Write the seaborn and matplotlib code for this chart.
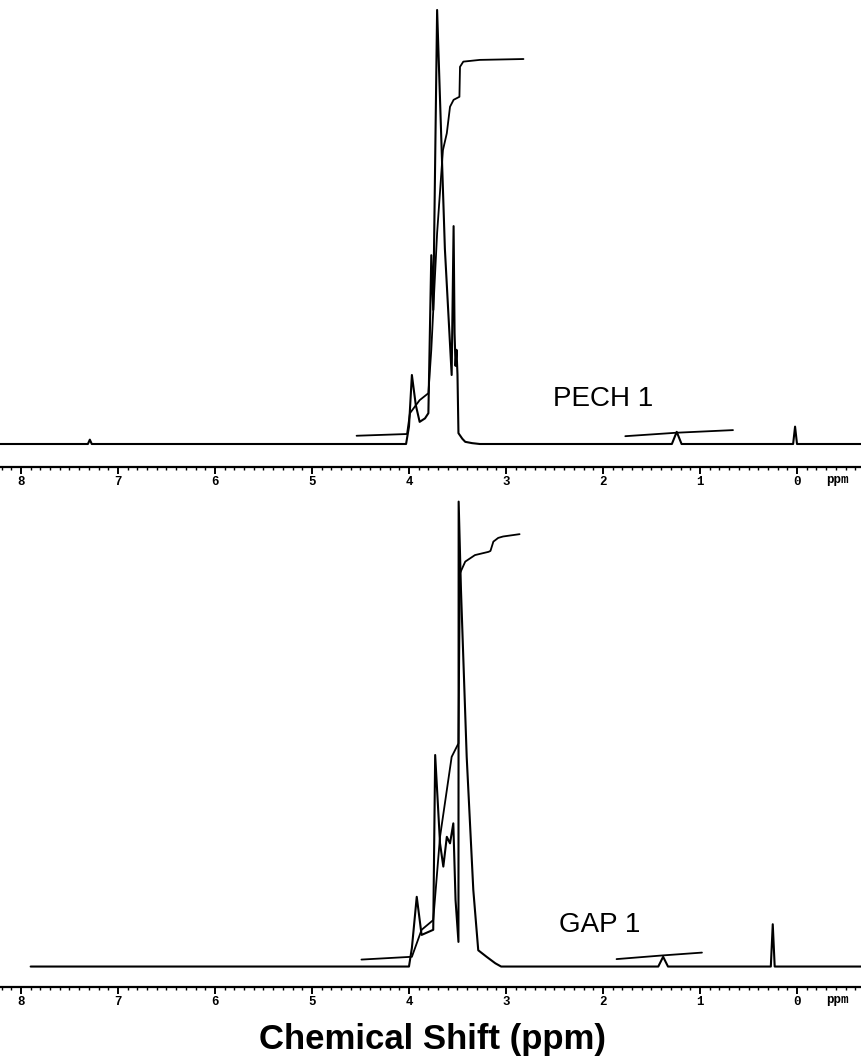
import numpy as np
import pandas as pd
import seaborn as sns
import matplotlib.pyplot as plt
from matplotlib.ticker import MultipleLocator, FixedLocator

# ---- data (ppm, relative intensity) ----
pech_ppm = [8.22, 7.31, 7.29, 7.27, 4.03, 4.00, 3.97, 3.93, 3.89, 3.835, 3.80, 3.77,
            3.75, 3.71, 3.63, 3.56, 3.54, 3.53, 3.52, 3.51, 3.50, 3.49, 3.45, 3.42,
            3.35, 3.27, 1.29, 1.24, 1.19, 0.04, 0.02, 0.00, -0.67]
pech_int = [0.0, 0.0, 1.0, 0.0, 0.0, 4.0, 15.9, 9.0, 5.1, 5.9, 7.1, 43.5,
            30.9, 100.0, 45.0, 15.9, 50.2, 25.5, 18.0, 21.7, 16.0, 2.5, 1.2, 0.5,
            0.2, 0.0, 0.0, 2.8, 0.0, 0.0, 4.0, 0.0, 0.0]

pech_int_ppm = [4.54, 4.02, 3.99, 3.89, 3.80, 3.77, 3.71, 3.65, 3.61, 3.577, 3.54,
                3.48, 3.474, 3.44, 3.27, 2.82]
pech_int_val = [1.9, 2.3, 7.1, 10.1, 11.7, 21.7, 48.6, 67.7, 71.6, 77.7, 79.3,
                80.0, 86.9, 88.1, 88.5, 88.7]
pech_small_int_ppm = [1.77, 1.24, 0.66]
pech_small_int_val = [1.8, 2.6, 3.2]

gap_ppm = [7.90, 4.00, 3.97, 3.92, 3.87, 3.75, 3.73, 3.68, 3.646, 3.61, 3.577, 3.543,
           3.52, 3.49, 3.488, 3.464, 3.405, 3.337, 3.286, 3.20, 3.11, 3.05, 1.43, 1.38,
           1.33, 0.27, 0.25, 0.23, -0.67]
gap_int = [0.0, 0.0, 4.0, 15.0, 6.8, 7.9, 45.5, 26.5, 21.5, 27.9, 26.5, 30.8,
           14.3, 5.3, 100.0, 81.0, 45.1, 16.5, 3.5, 2.1, 0.7, 0.0, 0.0, 2.1,
           0.0, 0.0, 9.1, 0.0, 0.0]

gap_int_ppm = [4.49, 3.97, 3.87, 3.75, 3.68, 3.56, 3.49, 3.474, 3.42, 3.32, 3.18,
               3.16, 3.13, 3.08, 3.03, 2.86]
gap_int_val = [1.5, 2.1, 7.9, 10.0, 27.9, 45.1, 48.0, 84.6, 87.1, 88.5, 89.2,
               89.4, 91.4, 92.2, 92.5, 93.0]
gap_small_int_ppm = [1.86, 1.38, 0.98]
gap_small_int_val = [1.6, 2.4, 3.0]

sample_labels = ["PECH 1", "GAP 1"]
major_ticks = [8, 7, 6, 5, 4, 3, 2, 1, 0]

sns.set_style("white")
plt.rcParams['font.family'] = ['Liberation Sans', 'DejaVu Sans']
plt.rcParams['text.color'] = 'black'

W, H = 862, 1059
fig = plt.figure(figsize=(W / 100, H / 100), dpi=100)

# axes placement (pixel rows of the ruler and top edge)
ax_top = fig.add_axes([0, 1 - 467 / H, 1, 467 / H])
ax_bot = fig.add_axes([0, 1 - 987 / H, 1, (987 - 490) / H])

panels = [
    (ax_top, pech_ppm, pech_int, [(pech_int_ppm, pech_int_val), (pech_small_int_ppm, pech_small_int_val)],
     (-5.3, 102.3), sample_labels[0], (2.0, 10.4), -8.4),
    (ax_bot, gap_ppm, gap_int, [(gap_int_ppm, gap_int_val), (gap_small_int_ppm, gap_small_int_val)],
     (-4.4, 102.5), sample_labels[1], (2.03, 8.9), -7.3),
]

for ax, xs, ys, integrals, ylim, label, label_pos, ppm_y in panels:
    df = pd.DataFrame({"ppm": xs, "intensity": ys})
    sns.lineplot(data=df, x="ppm", y="intensity", ax=ax, color="black",
                 linewidth=1.5, sort=False, estimator=None)
    for ix, iy in integrals:
        di = pd.DataFrame({"ppm": ix, "integral": iy})
        sns.lineplot(data=di, x="ppm", y="integral", ax=ax, color="black",
                     linewidth=1.3, sort=False, estimator=None)

    ax.set_xlim(8.216, -0.670)
    ax.set_ylim(*ylim)
    ax.set_facecolor("none")
    for side in ["top", "left", "right"]:
        ax.spines[side].set_visible(False)
    ax.spines["bottom"].set_linewidth(1.6)
    ax.spines["bottom"].set_color("black")
    ax.set_yticks([])
    ax.set_xlabel("")
    ax.set_ylabel("")
    ax.xaxis.set_major_locator(FixedLocator(major_ticks))
    ax.xaxis.set_minor_locator(MultipleLocator(0.1))
    ax.set_xticklabels([str(t) for t in major_ticks],
                       fontfamily="Liberation Mono", fontweight="bold", fontsize=9)
    ax.tick_params(axis="x", which="major", direction="out", length=5, width=1.4,
                   pad=1.5, bottom=True, colors="black")
    ax.tick_params(axis="x", which="minor", direction="out", length=2.5, width=1.0,
                   bottom=True, colors="black")
    ax.text(-0.42, ppm_y, "ppm", fontfamily="Liberation Mono", fontweight="bold",
            fontsize=9, ha="center", va="center", clip_on=False, color="black")
    ax.text(label_pos[0], label_pos[1], label, fontsize=20, ha="center", va="center",
            color="black")

fig.text(0.502, 1 - 1040 / H, "Chemical Shift (ppm)", fontsize=25, fontweight="bold",
         ha="center", va="center", color="black")

fig.savefig("out.png", dpi=100, facecolor="white")
